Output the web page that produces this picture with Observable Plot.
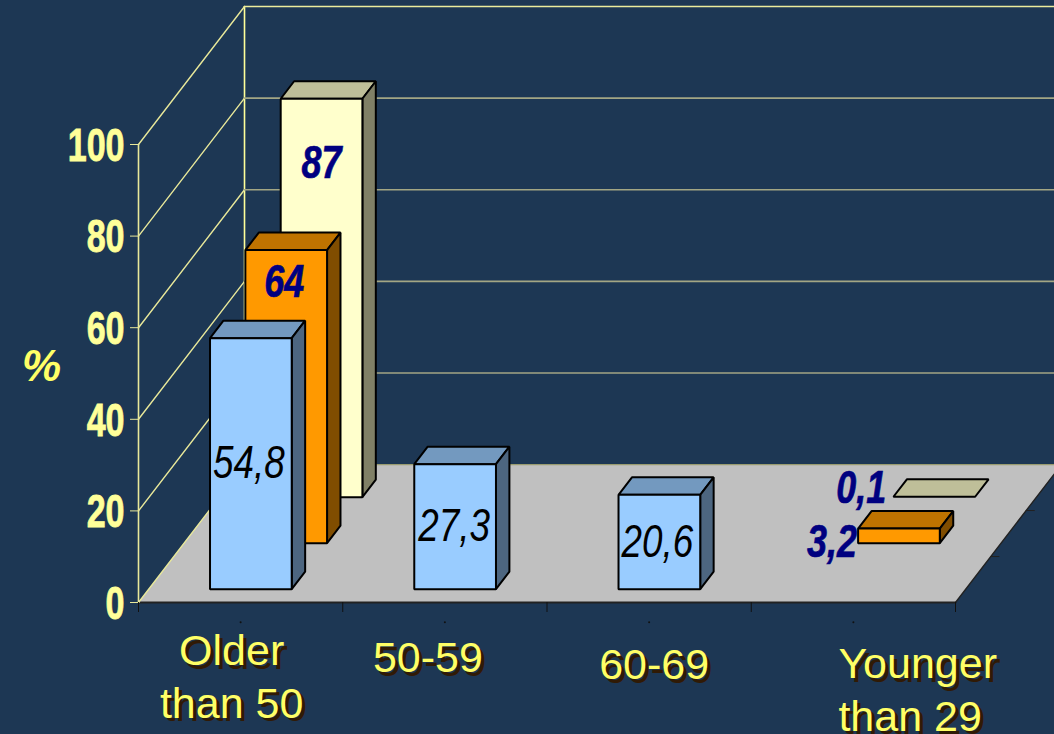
<!DOCTYPE html>
<html>
<head>
<meta charset="utf-8">
<script src="https://cdn.jsdelivr.net/npm/d3@7"></script>
<script src="https://cdn.jsdelivr.net/npm/@observablehq/plot@0.6"></script>
<style>html,body{margin:0;padding:0;background:#1d3754;overflow:hidden}svg{display:block}</style>
</head>
<body>
<div id="chart"></div>
<script>
const categories = ["Older\nthan 50", "50-59", "60-69", "Younger\nthan 29"];
const rowBlue = [54.8, 27.3, 20.6, null];
const rowOrange = [64, null, null, 3.2];
const rowYellow = [87, null, null, 0.1];
const yTicks = [0, 20, 40, 60, 80, 100];
const yTitle = "%";

// oblique projection of (category position, depth row, value) into the x and y data units
const XPERROW = 0.173, YPERROW = 10.04, ROWS = 3;
const P = (c, d, v) => ({x: c + d * XPERROW, y: v + d * YPERROW});
const poly = (pts, fill, stroke, strokeWidth) =>
  Plot.line(pts, {x: "x", y: "y", curve: "linear-closed", fill, stroke, strokeWidth, strokeLinejoin: "miter"});
const seg = (a, b, stroke, strokeWidth = 1.2) => Plot.line([a, b], {x: "x", y: "y", stroke, strokeWidth});

function bar(cat, row, val, col) {
  const c0 = cat + 0.3, c1 = cat + 0.7, d0 = row + 0.29, d1 = row + 0.67;
  const out = [];
  out.push(poly([P(c0,d0,val),P(c1,d0,val),P(c1,d1,val),P(c0,d1,val)], col[2], "#000", 2));
  if (val >= 1) {
    out.push(poly([P(c1,d0,0),P(c1,d1,0),P(c1,d1,val),P(c1,d0,val)], col[1], "#000", 2));
    out.push(poly([P(c0,d0,0),P(c1,d0,0),P(c1,d0,val),P(c0,d0,val)], col[0], "#000", 2));
  }
  return out;
}
const BLUE = ["#99ccff", "#4d6680", "#7399bf"];
const ORANGE = ["#ff9900", "#804d00", "#bf7300"];
const YELLOW = ["#ffffcc", "#808066", "#bfbf99"];

const marks = [];
// floor
marks.push(poly([P(0,0,0),P(4,0,0),P(4,ROWS,0),P(0,ROWS,0)], "#c0c0c0", "none", 0));
marks.push(seg(P(0,0,0), P(4,0,0), "#222", 2));
marks.push(seg(P(4,0,0), P(4,ROWS,0), "#222", 1.4));
marks.push(seg(P(0,ROWS,0), P(4,ROWS,0), "#9a9c70", 1.2));
marks.push(seg(P(0,0,0), P(0,ROWS,0), "#e8e89a", 1.4));
// right-edge floor ticks
for (const d of [1, 2]) marks.push(seg(P(4,d,0), P(4.04,d,0), "#222", 1));
// walls
marks.push(seg(P(0,0,0), P(0,0,100), "#e8e89a", 1.6));
marks.push(seg(P(0,ROWS,0), P(0,ROWS,100), "#ffff99", 1.6));
for (const v of yTicks.slice(1)) {
  marks.push(seg(P(0,0,v), P(0,ROWS,v), "#e8e89a", 1.4));
  marks.push(seg(P(0,ROWS,v), P(4,ROWS,v), v === 100 ? "#ecec9c" : "#a3a684", 1.6));
}
// axes
marks.push(Plot.axisY({
  ticks: yTicks, label: null, tickSize: 8, tickPadding: 6, stroke: "#e8e89a",
  fill: "#ffff99", fontSize: 46, fontWeight: "bold", fontFamily: "Liberation Sans"
}));
marks.push(Plot.axisX({ticks: [0,1,2,3,4], tickSize: 10, tickFormat: () => "", label: null, stroke: "#111"}));
marks.push(Plot.dot(categories.map((_, i) => ({x: i + 0.5, y: -4.3})), {x: "x", y: "y", r: 1, fill: "#111"}));

// bars back to front
[[rowYellow, 2, YELLOW], [rowOrange, 1, ORANGE], [rowBlue, 0, BLUE]].forEach(([vals, row, col]) => {
  vals.forEach((v, i) => { if (v != null) marks.push(...bar(i, row, v, col)); });
});

// value labels
const fmt = v => String(v).replace(".", ",");
const valueLabel = (cat, row, val, dx, dy, bold, fill) => {
  const p = P(cat + 0.5, row + 0.29, val);
  return Plot.text([p], {x: "x", y: "y", text: () => fmt(val), dx, dy, fontSize: 46,
    fontFamily: "Liberation Sans", fontStyle: "italic", fontWeight: bold ? "bold" : "normal", fill,
    className: bold ? "narrowbold" : "narrow"});
};
marks.push(valueLabel(0, 0, rowBlue[0], -2, 125, false, "#000"));
marks.push(valueLabel(1, 0, rowBlue[1], -1, 62, false, "#000"));
marks.push(valueLabel(2, 0, rowBlue[2], -2, 47, false, "#000"));
marks.push(valueLabel(0, 1, rowOrange[0], -2, 32, true, "#000080"));
marks.push(valueLabel(0, 2, rowYellow[0], 0, 65, true, "#000080"));
marks.push(valueLabel(3, 1, rowOrange[3], -67, 14, true, "#000080"));
marks.push(valueLabel(3, 2, rowYellow[3], -73, -8, true, "#000080"));

// category labels, hand-placed in the original
const catPlacement = [[-9, 72, "middle"], [-17, 53, "middle"], [5, 60, "middle"], [-15, 85, "start"]];
categories.forEach((c, i) => {
  const datum = [{x: i + 0.5, y: 0, t: c}];
  const [dx, dy, textAnchor] = catPlacement[i];
  const opts = {x: "x", y: "y", text: "t", fontSize: 43, lineHeight: 1.22, fontFamily: "Liberation Sans", textAnchor, lineAnchor: "middle"};
  marks.push(Plot.text(datum, {...opts, dx: dx + 3.5, dy: dy + 3.5, fill: "#301a05"}));
  marks.push(Plot.text(datum, {...opts, dx, dy, fill: "#ffff66"}));
});

// % title
marks.push(Plot.text([{y: 51.5}], {y: "y", frameAnchor: "left", text: () => yTitle, dx: -97, fontSize: 44,
  fontFamily: "Liberation Sans", fontWeight: "bold", fontStyle: "italic", fill: "#ffff66", textAnchor: "middle"}));

const chart = Plot.plot({
  width: 1054, height: 734,
  marginLeft: 138, marginRight: 99, marginTop: 144, marginBottom: 132,
  style: {background: "#1d3754", overflow: "hidden"},
  x: {domain: [0, 4], axis: null},
  y: {domain: [0, 100], axis: null},
  marks
});
document.getElementById("chart").append(chart);

// no narrow face is installed: condense the real text to the reference's Arial Narrow proportions
const condense = (sel, k, weight) => d3.select(chart).selectAll(sel).each(function () {
  this.setAttribute("textLength", this.getComputedTextLength() * k);
  this.setAttribute("lengthAdjust", "spacingAndGlyphs");
  if (weight) {
    this.setAttribute("stroke", getComputedStyle(this).fill);
    this.setAttribute("stroke-width", weight);
  }
});
condense(".narrow text", 0.8);
condense(".narrowbold text", 0.78, 0.7);
condense('g[aria-label="y-axis tick label"] text', 0.74, 0.8);
d3.select(chart).selectAll('g[aria-label="y-axis tick label"] text').each(function () {
  this.setAttribute("dy", (parseFloat(this.getAttribute("dy")) || 0) + 1.5);
});
</script>
</body>
</html>
